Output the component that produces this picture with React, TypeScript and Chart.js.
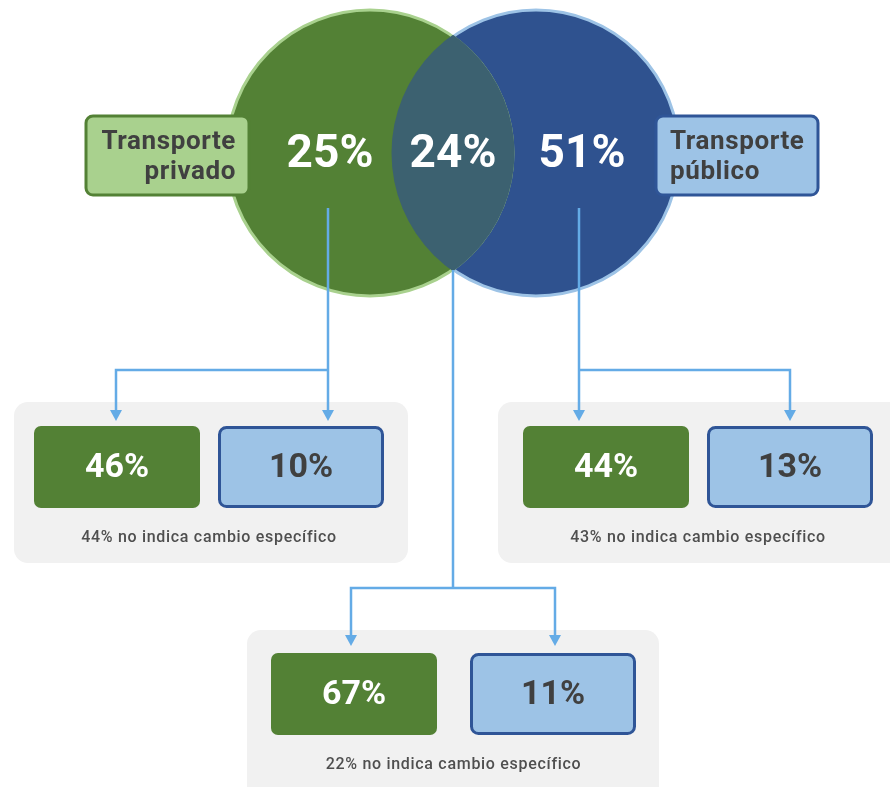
import React, { useEffect, useRef } from "react";
import { Chart, registerables } from "chart.js";

Chart.register(...registerables);

// ---- data ----
const groupLabels = ["Transporte privado", "Ambos", "Transporte público"];
const groupShares = [25, 24, 51]; // % in each Venn region
const toPrivado = [46, 67, 44]; // green boxes
const toPublico = [10, 11, 13]; // blue boxes
const noIndica = [44, 22, 43]; // no specific change

// ---- layout (pixels in a 890x787 space) ----
const W = 890;
const H = 787;
const R = 143;
const CIRCLES = [
  { x: 370, y: 153 },
  { x: 536, y: 153 },
];
const COLORS = {
  green: "#538135",
  greenLight: "#a9d18e",
  blue: "#2f528f",
  blueLight: "#9dc3e6",
  blueBorder: "#2f5597",
  lens: "#3c6170",
  arrow: "#64abe6",
  panel: "#f1f1f1",
  text: "#404040",
  caption: "#4f4f4f",
};
const FONT = "Roboto, 'DejaVu Sans', sans-serif";

const REGIONS = [
  { lx: 330, sx: 328, startY: 208, branchY: 370, ax: [116, 328], tipY: 421, panel: [14, 402, 394, 161], boxes: [[34, 426], [218, 426]], capY: 537 },
  { lx: 453, sx: 453, startY: 270, branchY: 588, ax: [351, 555], tipY: 646, panel: [247, 630, 412, 170], boxes: [[271, 653], [470, 653]], capY: 764 },
  { lx: 582, sx: 579, startY: 208, branchY: 370, ax: [579, 790], tipY: 421, panel: [498, 402, 410, 161], boxes: [[523, 426], [707, 426]], capY: 537 },
];
const BOX_W = 166;
const BOX_H = 82;

const drawPlugin = {
  id: "infographic",
  afterDatasetsDraw(chart: any) {
    const ctx: any = chart.ctx;
    const sx = chart.scales.x;
    const sy = chart.scales.y;
    const X = (v: number) => sx.getPixelForValue(v);
    const Y = (v: number) => sy.getPixelForValue(v);
    const rr = (x: number, y: number, w: number, h: number, rad: number) => {
      ctx.beginPath();
      ctx.roundRect(X(x), Y(y), X(x + w) - X(x), Y(y + h) - Y(y), rad);
    };
    const [c1, c2] = CIRCLES;

    // lens
    ctx.save();
    ctx.beginPath();
    ctx.arc(X(c1.x), Y(c1.y), R + 1.5, 0, Math.PI * 2);
    ctx.clip();
    ctx.beginPath();
    ctx.arc(X(c2.x), Y(c2.y), R + 1.5, 0, Math.PI * 2);
    ctx.fillStyle = COLORS.lens;
    ctx.fill();
    ctx.restore();

    const label = (x: number, y: number, w: number, h: number, fill: string, stroke: string, lines: string[], align: CanvasTextAlign, tx: number) => {
      ctx.save();
      rr(x, y, w, h, 7);
      ctx.fillStyle = fill;
      ctx.fill();
      ctx.lineWidth = 3;
      ctx.strokeStyle = stroke;
      ctx.stroke();
      ctx.fillStyle = COLORS.text;
      ctx.font = `bold 26px ${FONT}`;
      ctx.letterSpacing = "0.6px";
      ctx.textAlign = align;
      ctx.textBaseline = "middle";
      ctx.fillText(lines[0], X(tx), Y(y + 26));
      ctx.fillText(lines[1], X(tx), Y(y + 56));
      ctx.restore();
    };
    label(86, 116, 163, 79, COLORS.greenLight, COLORS.green, groupLabels[0].split(" "), "right", 236);
    label(656, 116, 162, 79, COLORS.blueLight, COLORS.blueBorder, groupLabels[2].split(" "), "left", 670);

    ctx.save();
    ctx.fillStyle = "#ffffff";
    ctx.font = `bold 46px ${FONT}`;
    ctx.textAlign = "center";
    ctx.textBaseline = "middle";
    REGIONS.forEach((r, i) => {
      ctx.fillText(`${groupShares[i]}%`, X(r.lx), Y(155));
    });
    ctx.restore();

    REGIONS.forEach((r, i) => {
      ctx.save();
      rr(r.panel[0], r.panel[1], r.panel[2], r.panel[3], 14);
      ctx.fillStyle = COLORS.panel;
      ctx.fill();
      ctx.restore();

      ctx.save();
      ctx.strokeStyle = COLORS.arrow;
      ctx.fillStyle = COLORS.arrow;
      ctx.lineWidth = 2.5;
      ctx.beginPath();
      ctx.moveTo(X(r.sx), Y(r.startY));
      ctx.lineTo(X(r.sx), Y(r.branchY));
      ctx.moveTo(X(r.ax[0]) - 1.25, Y(r.branchY));
      ctx.lineTo(X(r.ax[1]) + 1.25, Y(r.branchY));
      r.ax.forEach((ax) => {
        ctx.moveTo(X(ax), Y(r.branchY));
        ctx.lineTo(X(ax), Y(r.tipY - 9));
      });
      ctx.stroke();
      r.ax.forEach((ax) => {
        ctx.beginPath();
        ctx.moveTo(X(ax) - 6, Y(r.tipY - 11));
        ctx.lineTo(X(ax) + 6, Y(r.tipY - 11));
        ctx.lineTo(X(ax), Y(r.tipY));
        ctx.closePath();
        ctx.fill();
      });
      ctx.restore();

      const [g, b] = r.boxes;
      ctx.save();
      rr(g[0], g[1], BOX_W, BOX_H, 7);
      ctx.fillStyle = COLORS.green;
      ctx.fill();
      rr(b[0] + 1.5, b[1] + 1.5, BOX_W - 3, BOX_H - 3, 7);
      ctx.fillStyle = COLORS.blueLight;
      ctx.fill();
      ctx.lineWidth = 3;
      ctx.strokeStyle = COLORS.blueBorder;
      ctx.stroke();
      ctx.font = `bold 34px ${FONT}`;
      ctx.textAlign = "center";
      ctx.textBaseline = "middle";
      ctx.fillStyle = "#ffffff";
      ctx.fillText(`${toPrivado[i]}%`, X(g[0] + BOX_W / 2), Y(g[1] + BOX_H / 2 + 1));
      ctx.fillStyle = COLORS.text;
      ctx.fillText(`${toPublico[i]}%`, X(b[0] + BOX_W / 2), Y(b[1] + BOX_H / 2 + 1));
      ctx.font = `500 16px ${FONT}`;
      ctx.letterSpacing = "0.7px";
      ctx.fillStyle = COLORS.caption;
      ctx.fillText(`${noIndica[i]}% no indica cambio específico`, X((g[0] + b[0] + BOX_W) / 2), Y(r.capY + 1));
      ctx.restore();
    });
  },
};

export default function App() {
  const ref = useRef<HTMLCanvasElement>(null);
  useEffect(() => {
    document.body.style.margin = "0";
    const chart = new Chart(ref.current as HTMLCanvasElement, {
      type: "bubble",
      data: {
        datasets: [
          {
            label: groupLabels[0],
            data: [{ x: CIRCLES[0].x, y: CIRCLES[0].y, r: R }],
            backgroundColor: COLORS.green,
            borderColor: COLORS.greenLight,
            borderWidth: 3,
          },
          {
            label: groupLabels[2],
            data: [{ x: CIRCLES[1].x, y: CIRCLES[1].y, r: R }],
            backgroundColor: COLORS.blue,
            borderColor: COLORS.blueLight,
            borderWidth: 3,
          },
        ],
      },
      options: {
        responsive: false,
        animation: false,
        events: [],
        layout: { padding: 0, autoPadding: false } as any,
        clip: false as any,
        scales: {
          x: { type: "linear", min: 0, max: W, display: false },
          y: { type: "linear", min: 0, max: H, reverse: true, display: false },
        },
        plugins: { legend: { display: false }, tooltip: { enabled: false } },
      },
      plugins: [drawPlugin],
    });
    return () => chart.destroy();
  }, []);
  return (
    <div style={{ position: "absolute", left: 0, top: 0, width: W, height: H, background: "#fff" }}>
      <canvas ref={ref} width={W} height={H} />
    </div>
  );
}
